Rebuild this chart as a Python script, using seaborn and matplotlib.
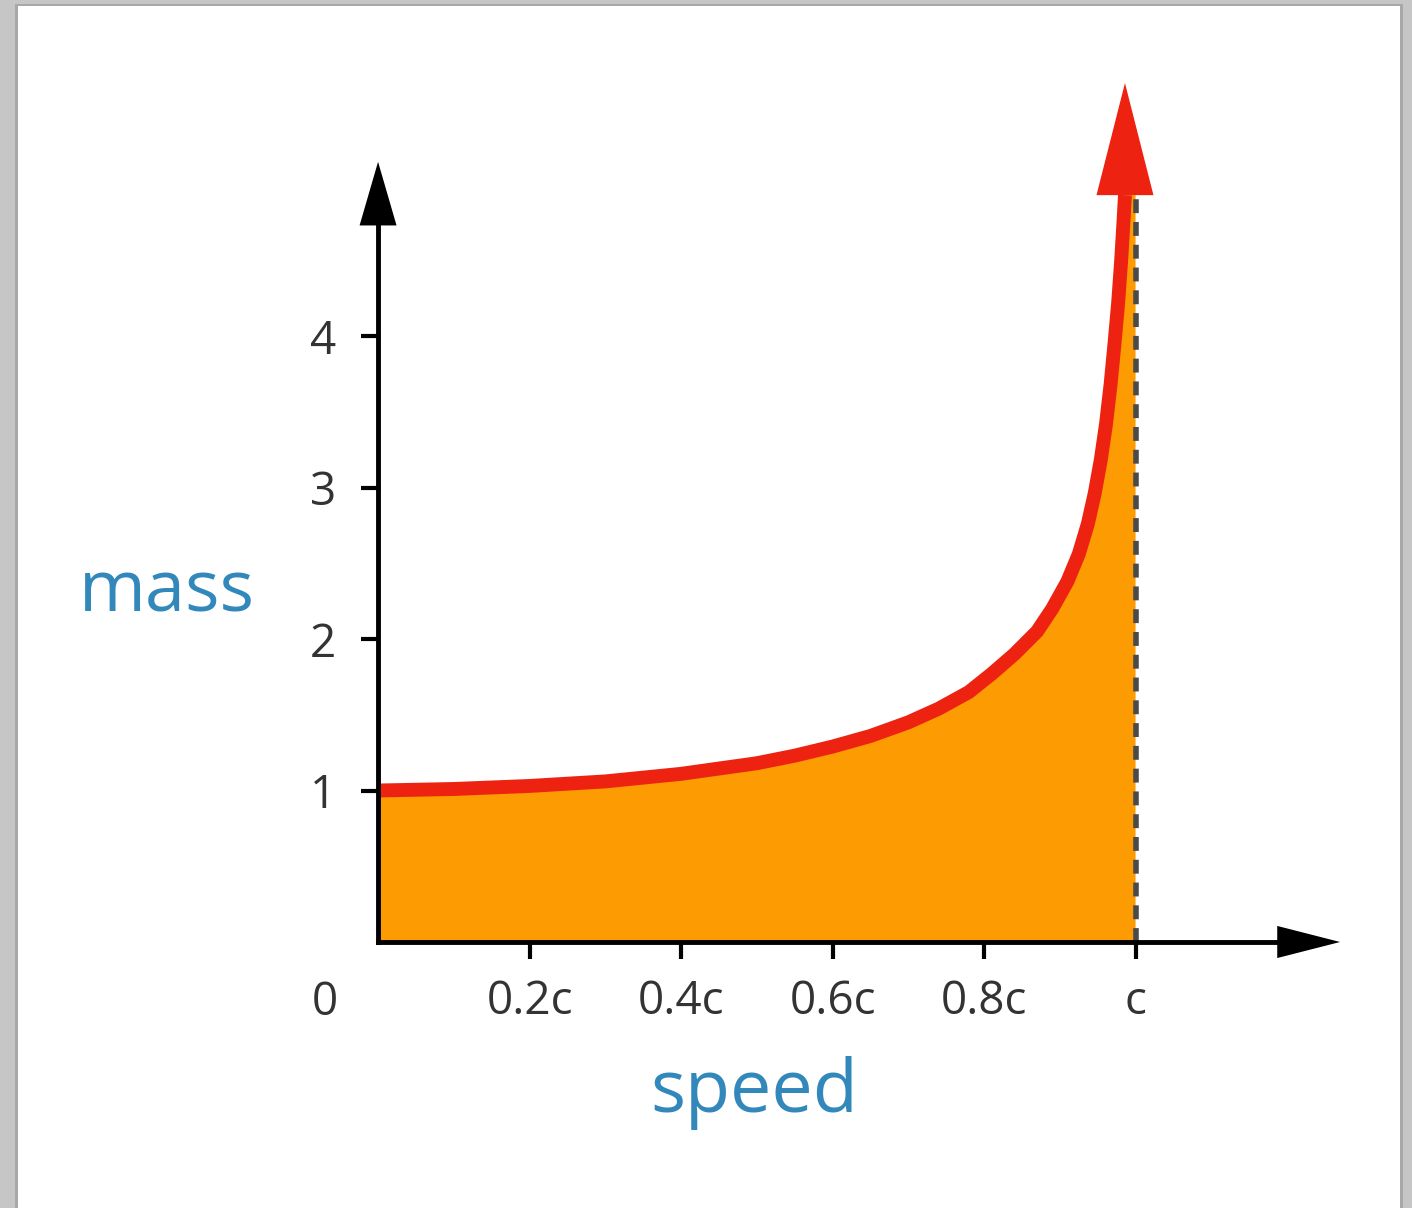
"""Relativistic mass versus speed, redrawn with seaborn and matplotlib."""
import matplotlib

matplotlib.use("Agg")
import matplotlib.pyplot as plt
from matplotlib.patches import Rectangle
import seaborn as sns

#####################################
# Data
#####################################

speed = [0.0, 0.1, 0.2, 0.3, 0.4, 0.5, 0.55, 0.6, 0.65, 0.7, 0.74, 0.78,
         0.81, 0.84, 0.87, 0.89, 0.91, 0.925, 0.937, 0.946, 0.954, 0.961,
         0.967, 0.972, 0.977, 0.981, 0.984, 0.986]
mass = [1.0, 1.01, 1.03, 1.06, 1.11, 1.18, 1.23, 1.29, 1.36, 1.45, 1.54,
        1.65, 1.77, 1.9, 2.05, 2.2, 2.38, 2.56, 2.76, 2.96, 3.18, 3.42,
        3.68, 3.94, 4.22, 4.5, 4.75, 4.93]

x_ticks = [0.2, 0.4, 0.6, 0.8, 1.0]
x_tick_labels = ["0.2c", "0.4c", "0.6c", "0.8c", "c"]
y_ticks = [1, 2, 3, 4]
y_tick_labels = ["1", "2", "3", "4"]

RED = "#EE2211"
ORANGE = "#FD9B02"
BLUE = "#3388BB"
TEXT = "#333333"
FONT = ["Open Sans", "DejaVu Sans"]

#####################################
# Figure
#####################################

sns.set_theme(style="white")
plt.rcParams["font.family"] = FONT

W, H = 1412, 1208
fig = plt.figure(figsize=(W / 100, H / 100), dpi=100)
fig.patch.set_facecolor("#C6C6C6")
# white panel with a faint shadow, kept behind the axes
fig.patches.append(Rectangle((15 / W, 0), 1388 / W, 1 - 4 / H,
                             transform=fig.transFigure, facecolor="#A8A8A8",
                             edgecolor="none", zorder=-2))
fig.patches.append(Rectangle((18 / W, 0), 1382 / W, 1 - 6 / H,
                             transform=fig.transFigure, facecolor="white",
                             edgecolor="none", zorder=-1))

ax = fig.add_axes([0.2141, 0.1575, 0.7779, 0.8026])
ax.set_zorder(1)
ax.set_facecolor("none")
ax.set_xlim(-0.1, 1.35)
ax.set_ylim(-0.5, 5.9)

# area under the curve, closed against x = c
top = mass[-1]
ax.fill([0.0] + speed + [1.0, 1.0], [0.0] + mass + [top, 0.0],
        color=ORANGE, lw=0, zorder=1)
ax.plot([1.0, 1.0], [0.0, top], color="#4a4a4a", lw=4,
        dashes=(2.5, 1.6), zorder=2)

sns.lineplot(x=speed, y=mass, ax=ax, color=RED, lw=10, zorder=3,
             solid_capstyle="butt", solid_joinstyle="round")
# red arrow head at the end of the curve
ax.fill([speed[-1] - 0.0376, speed[-1], speed[-1] + 0.0376],
        [top, 5.67, top], color=RED, lw=0, zorder=3)

# axes drawn as arrows through the origin
for side in ["top", "right"]:
    ax.spines[side].set_visible(False)
ax.spines["left"].set_position(("data", 0))
ax.spines["bottom"].set_position(("data", 0))
ax.spines["left"].set_bounds(0, 4.75)
ax.spines["bottom"].set_bounds(0, 1.19)
for side in ["left", "bottom"]:
    ax.spines[side].set_linewidth(3.5)
    ax.spines[side].set_color("black")
    ax.spines[side].set_zorder(4)
ax.fill([-0.0244, 0, 0.0244], [4.73, 5.15, 4.73], color="black", lw=0,
        zorder=4, clip_on=False)
ax.fill([1.187, 1.27, 1.187], [-0.106, 0, 0.106], color="black", lw=0,
        zorder=4, clip_on=False)

ax.set_xticks(x_ticks, x_tick_labels)
ax.set_yticks(y_ticks, y_tick_labels)
ax.tick_params(axis="both", direction="out", length=12, width=3,
               color="black", labelcolor=TEXT, labelsize=33,
               bottom=True, left=True)
ax.tick_params(axis="x", pad=15)
ax.tick_params(axis="y", pad=18)
ax.text(-0.07, -0.4, "0", ha="center", va="center", fontsize=33,
        color=TEXT)
ax.grid(False)

fig.text(167 / W, 1 - 612 / H, "mass", ha="center", va="baseline",
         fontsize=52, color=BLUE)
fig.text(754 / W, 1 - 1112 / H, "speed", ha="center", va="baseline",
         fontsize=53, color=BLUE)

fig.savefig("out.png", dpi=100, facecolor=fig.get_facecolor())
